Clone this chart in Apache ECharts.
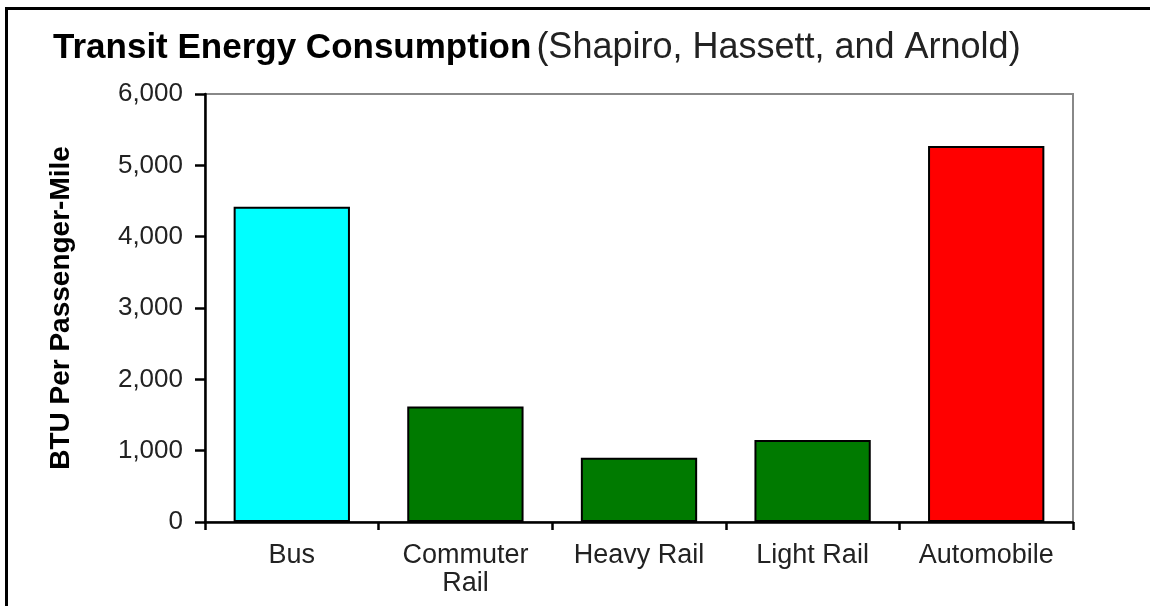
<!DOCTYPE html>
<html>
<head>
<meta charset="utf-8">
<script src="https://cdn.jsdelivr.net/npm/echarts@6/dist/echarts.min.js"></script>
<style>
    html, body { margin: 0; padding: 0; background: #fff; }
    #frame {
        position: absolute; left: 5px; top: 7px; width: 1200px; height: 700px;
        border-left: 3px solid #000; border-top: 3px solid #000;
    }
    #main { position: absolute; left: 0; top: 0; width: 1150px; height: 606px; }
</style>
</head>
<body>
<div id="frame"></div>
<div id="main"></div>
<script>
// 数据
const categories = ['Bus', 'Commuter\nRail', 'Heavy Rail', 'Light Rail', 'Automobile'];
const btuValues = [4420, 1620, 900, 1150, 5270];
const barColors = ['#00ffff', '#007a00', '#007a00', '#007a00', '#ff0000'];
const yTicks = [0, 1000, 2000, 3000, 4000, 5000, 6000];

(function () {
    let myCharts = echarts.init(document.getElementById('main'));
    const font = 'Liberation Sans, Arial, sans-serif';

    let option = {
        animation: false,
        title: {
            left: 48,
            top: 25,
            text: '{b|Transit Energy Consumption} {n|(Shapiro, Hassett, and Arnold)}',
            textStyle: {
                rich: {
                    b: { fontFamily: font, fontSize: 35, fontWeight: 'bold', color: '#000' },
                    n: { fontFamily: font, fontSize: 36, fontWeight: 'normal', color: '#222' }
                }
            }
        },
        grid: {
            left: 205,
            right: 77,
            top: 94,
            bottom: 84,
            show: true,
            borderColor: '#888',
            borderWidth: 2
        },
        xAxis: {
            type: 'category',
            data: categories,
            axisLine: { lineStyle: { color: '#000', width: 2.5 } },
            axisTick: { show: true, interval: 0, length: 8, lineStyle: { color: '#000', width: 2.5 } },
            axisLabel: {
                interval: 0,
                margin: 20,
                fontFamily: font,
                fontSize: 27,
                lineHeight: 28,
                color: '#222'
            }
        },
        yAxis: {
            type: 'value',
            min: yTicks[0],
            max: yTicks[yTicks.length - 1],
            interval: 1000,
            name: 'BTU Per Passenger-Mile',
            nameLocation: 'middle',
            nameGap: 130,
            nameTextStyle: { fontFamily: font, fontSize: 28, fontWeight: 'bold', color: '#000' },
            axisLine: { show: true, lineStyle: { color: '#000', width: 2.5 } },
            axisTick: { show: true, length: 10, lineStyle: { color: '#000', width: 2.5 } },
            splitLine: { show: false },
            axisLabel: {
                margin: 22,
                fontFamily: font,
                fontSize: 26,
                color: '#222',
                formatter: function (v) { return v.toLocaleString('en-US'); }
            }
        },
        series: [{
            type: 'bar',
            barCategoryGap: '33%',
            data: btuValues.map(function (v, i) {
                return { value: v, itemStyle: { color: barColors[i] } };
            }),
            itemStyle: { borderColor: '#000', borderWidth: 2 }
        }]
    };

    myCharts.setOption(option);
    window.addEventListener('resize', function () {
        myCharts.resize();
    });
})();
</script>
</body>
</html>
